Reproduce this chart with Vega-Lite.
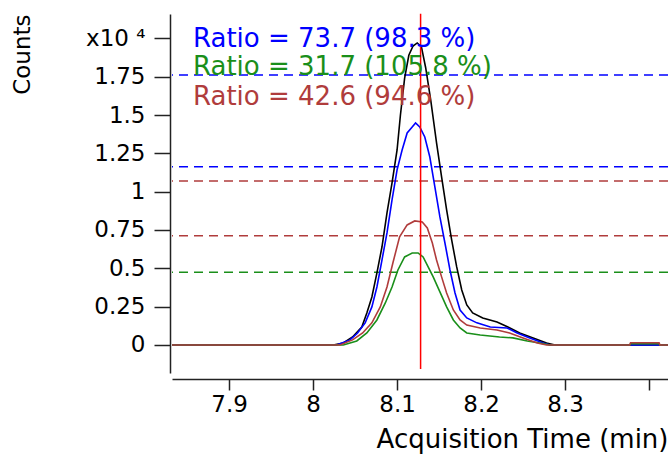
{
  "$schema": "https://vega.github.io/schema/vega-lite/v6.json",
  "autosize": {"type": "none"},
  "padding": {"left": 172, "top": 14, "right": 0, "bottom": 81},
  "width": 496,
  "height": 359,
  "background": "white",
  "config": {
    "view": {"stroke": null},
    "font": "DejaVu Sans"
  },
  "datasets": {
    "curves": [
      {"t": 7.832, "c": 0, "s": "black"},
      {"t": 8.024, "c": 0, "s": "black"},
      {"t": 8.036, "c": 0.013, "s": "black"},
      {"t": 8.047, "c": 0.052, "s": "black"},
      {"t": 8.058, "c": 0.117, "s": "black"},
      {"t": 8.064, "c": 0.209, "s": "black"},
      {"t": 8.070, "c": 0.313, "s": "black"},
      {"t": 8.076, "c": 0.470, "s": "black"},
      {"t": 8.082, "c": 0.639, "s": "black"},
      {"t": 8.088, "c": 0.861, "s": "black"},
      {"t": 8.094, "c": 1.057, "s": "black"},
      {"t": 8.100, "c": 1.272, "s": "black"},
      {"t": 8.104, "c": 1.500, "s": "black"},
      {"t": 8.109, "c": 1.740, "s": "black"},
      {"t": 8.114, "c": 1.890, "s": "black"},
      {"t": 8.119, "c": 1.950, "s": "black"},
      {"t": 8.124, "c": 1.970, "s": "black"},
      {"t": 8.129, "c": 1.945, "s": "black"},
      {"t": 8.134, "c": 1.810, "s": "black"},
      {"t": 8.140, "c": 1.600, "s": "black"},
      {"t": 8.147, "c": 1.318, "s": "black"},
      {"t": 8.153, "c": 1.096, "s": "black"},
      {"t": 8.159, "c": 0.881, "s": "black"},
      {"t": 8.165, "c": 0.685, "s": "black"},
      {"t": 8.171, "c": 0.509, "s": "black"},
      {"t": 8.177, "c": 0.359, "s": "black"},
      {"t": 8.183, "c": 0.261, "s": "black"},
      {"t": 8.190, "c": 0.209, "s": "black"},
      {"t": 8.202, "c": 0.176, "s": "black"},
      {"t": 8.219, "c": 0.150, "s": "black"},
      {"t": 8.232, "c": 0.117, "s": "black"},
      {"t": 8.246, "c": 0.078, "s": "black"},
      {"t": 8.262, "c": 0.046, "s": "black"},
      {"t": 8.278, "c": 0.013, "s": "black"},
      {"t": 8.288, "c": 0, "s": "black"},
      {"t": 8.4226, "c": 0, "s": "black"},

      {"t": 7.832, "c": 0, "s": "blue"},
      {"t": 8.028, "c": 0, "s": "blue"},
      {"t": 8.044, "c": 0.033, "s": "blue"},
      {"t": 8.053, "c": 0.078, "s": "blue"},
      {"t": 8.062, "c": 0.144, "s": "blue"},
      {"t": 8.070, "c": 0.248, "s": "blue"},
      {"t": 8.076, "c": 0.378, "s": "blue"},
      {"t": 8.082, "c": 0.554, "s": "blue"},
      {"t": 8.088, "c": 0.731, "s": "blue"},
      {"t": 8.094, "c": 0.946, "s": "blue"},
      {"t": 8.100, "c": 1.142, "s": "blue"},
      {"t": 8.106, "c": 1.272, "s": "blue"},
      {"t": 8.112, "c": 1.383, "s": "blue"},
      {"t": 8.118, "c": 1.422, "s": "blue"},
      {"t": 8.122, "c": 1.448, "s": "blue"},
      {"t": 8.127, "c": 1.422, "s": "blue"},
      {"t": 8.133, "c": 1.357, "s": "blue"},
      {"t": 8.139, "c": 1.226, "s": "blue"},
      {"t": 8.145, "c": 1.031, "s": "blue"},
      {"t": 8.151, "c": 0.835, "s": "blue"},
      {"t": 8.157, "c": 0.665, "s": "blue"},
      {"t": 8.163, "c": 0.489, "s": "blue"},
      {"t": 8.169, "c": 0.339, "s": "blue"},
      {"t": 8.175, "c": 0.228, "s": "blue"},
      {"t": 8.183, "c": 0.176, "s": "blue"},
      {"t": 8.195, "c": 0.144, "s": "blue"},
      {"t": 8.211, "c": 0.117, "s": "blue"},
      {"t": 8.231, "c": 0.111, "s": "blue"},
      {"t": 8.243, "c": 0.078, "s": "blue"},
      {"t": 8.258, "c": 0.046, "s": "blue"},
      {"t": 8.274, "c": 0.013, "s": "blue"},
      {"t": 8.282, "c": 0, "s": "blue"},
      {"t": 8.4226, "c": 0, "s": "blue"},

      {"t": 7.832, "c": 0, "s": "green"},
      {"t": 8.036, "c": 0, "s": "green"},
      {"t": 8.052, "c": 0.026, "s": "green"},
      {"t": 8.064, "c": 0.078, "s": "green"},
      {"t": 8.076, "c": 0.163, "s": "green"},
      {"t": 8.086, "c": 0.274, "s": "green"},
      {"t": 8.094, "c": 0.378, "s": "green"},
      {"t": 8.101, "c": 0.489, "s": "green"},
      {"t": 8.109, "c": 0.574, "s": "green"},
      {"t": 8.118, "c": 0.600, "s": "green"},
      {"t": 8.125, "c": 0.600, "s": "green"},
      {"t": 8.131, "c": 0.574, "s": "green"},
      {"t": 8.137, "c": 0.509, "s": "green"},
      {"t": 8.143, "c": 0.444, "s": "green"},
      {"t": 8.151, "c": 0.346, "s": "green"},
      {"t": 8.159, "c": 0.248, "s": "green"},
      {"t": 8.167, "c": 0.163, "s": "green"},
      {"t": 8.175, "c": 0.111, "s": "green"},
      {"t": 8.183, "c": 0.078, "s": "green"},
      {"t": 8.199, "c": 0.065, "s": "green"},
      {"t": 8.222, "c": 0.052, "s": "green"},
      {"t": 8.238, "c": 0.046, "s": "green"},
      {"t": 8.255, "c": 0.026, "s": "green"},
      {"t": 8.270, "c": 0.013, "s": "green"},
      {"t": 8.282, "c": 0, "s": "green"},
      {"t": 8.377, "c": 0, "s": "green"},
      {"t": 8.378, "c": 0.008, "s": "green"},
      {"t": 8.412, "c": 0.008, "s": "green"},
      {"t": 8.413, "c": 0, "s": "green"},
      {"t": 8.4226, "c": 0, "s": "green"},

      {"t": 7.832, "c": 0, "s": "brown"},
      {"t": 8.032, "c": 0, "s": "brown"},
      {"t": 8.047, "c": 0.033, "s": "brown"},
      {"t": 8.059, "c": 0.078, "s": "brown"},
      {"t": 8.070, "c": 0.144, "s": "brown"},
      {"t": 8.080, "c": 0.248, "s": "brown"},
      {"t": 8.088, "c": 0.378, "s": "brown"},
      {"t": 8.095, "c": 0.535, "s": "brown"},
      {"t": 8.103, "c": 0.705, "s": "brown"},
      {"t": 8.112, "c": 0.783, "s": "brown"},
      {"t": 8.121, "c": 0.809, "s": "brown"},
      {"t": 8.130, "c": 0.802, "s": "brown"},
      {"t": 8.136, "c": 0.763, "s": "brown"},
      {"t": 8.142, "c": 0.665, "s": "brown"},
      {"t": 8.147, "c": 0.554, "s": "brown"},
      {"t": 8.153, "c": 0.444, "s": "brown"},
      {"t": 8.159, "c": 0.339, "s": "brown"},
      {"t": 8.167, "c": 0.228, "s": "brown"},
      {"t": 8.175, "c": 0.163, "s": "brown"},
      {"t": 8.183, "c": 0.130, "s": "brown"},
      {"t": 8.199, "c": 0.111, "s": "brown"},
      {"t": 8.219, "c": 0.098, "s": "brown"},
      {"t": 8.234, "c": 0.078, "s": "brown"},
      {"t": 8.250, "c": 0.046, "s": "brown"},
      {"t": 8.267, "c": 0.013, "s": "brown"},
      {"t": 8.278, "c": 0, "s": "brown"},
      {"t": 8.377, "c": 0, "s": "brown"},
      {"t": 8.378, "c": 0.014, "s": "brown"},
      {"t": 8.412, "c": 0.014, "s": "brown"},
      {"t": 8.413, "c": 0, "s": "brown"},
      {"t": 8.4226, "c": 0, "s": "brown"}
    ],
    "limits": [
      {"level": 1.761, "s": "blue"},
      {"level": 1.163, "s": "blue"},
      {"level": 1.070, "s": "brown"},
      {"level": 0.713, "s": "brown"},
      {"level": 0.474, "s": "green"}
    ],
    "labels": [
      {"t": 7.857, "c": 1.944, "s": "blue", "text": "Ratio = 73.7 (98.3 %)"},
      {"t": 7.857, "c": 1.761, "s": "green", "text": "Ratio = 31.7 (105.8 %)"},
      {"t": 7.857, "c": 1.566, "s": "brown", "text": "Ratio = 42.6 (94.6 %)"}
    ],
    "marker": [
      {"t": 8.128, "top": 2.16, "bottom": -0.157}
    ]
  },
  "encoding": {
    "x": {
      "field": "t", "type": "quantitative",
      "scale": {"domain": [7.832, 8.4226], "nice": false, "zero": false},
      "axis": {
        "title": "Acquisition Time (min)",
        "values": [7.9, 8.0, 8.1, 8.2, 8.3, 8.4],
        "labelExpr": "datum.value > 8.35 ? '' : format(datum.value, '~g')",
        "offset": 6,
        "grid": false,
        "domainColor": "#222222", "domainWidth": 1.5,
        "tickColor": "#222222", "tickWidth": 1.5, "tickSize": 11,
        "labelFont": "DejaVu Sans", "labelFontSize": 23, "labelColor": "black",
        "labelPadding": 3,
        "titleFont": "DejaVu Sans", "titleFontSize": 26, "titleFontWeight": "normal",
        "titleColor": "black", "titleAnchor": "end", "titlePadding": 10
      }
    },
    "y": {
      "field": "c", "type": "quantitative",
      "scale": {"domain": [-0.183, 2.159], "nice": false, "zero": false},
      "axis": {
        "title": "Counts",
        "values": [0, 0.25, 0.5, 0.75, 1, 1.25, 1.5, 1.75, 2],
        "labelExpr": "datum.value > 1.9 ? 'x10  ⁴' : format(datum.value, '~g')",
        "offset": 2,
        "grid": false,
        "domainColor": "#222222", "domainWidth": 1.5,
        "tickColor": "#222222", "tickWidth": 1.5, "tickSize": 16,
        "labelFont": "DejaVu Sans", "labelFontSize": 23, "labelColor": "black",
        "labelPadding": 9,
        "titleFont": "DejaVu Sans", "titleFontSize": 23, "titleFontWeight": "normal",
        "titleColor": "black", "titleAnchor": "end", "titlePadding": 44
      }
    }
  },
  "layer": [
    {
      "data": {"name": "limits"},
      "mark": {"type": "rule", "strokeDash": [9, 6], "strokeWidth": 1.5},
      "encoding": {
        "x": null,
        "y": {"field": "level", "type": "quantitative"},
        "color": {
          "field": "s", "type": "nominal", "legend": null,
          "scale": {"domain": ["black", "blue", "green", "brown"], "range": ["#000000", "#0000ff", "#1a8f1a", "#b03c3c"]}
        }
      }
    },
    {
      "data": {"name": "curves"},
      "transform": [{"filter": "datum.s == 'black'"}],
      "mark": {"type": "line", "strokeWidth": 1.6, "color": "#000000"}
    },
    {
      "data": {"name": "curves"},
      "transform": [{"filter": "datum.s == 'blue'"}],
      "mark": {"type": "line", "strokeWidth": 1.6, "color": "#0000ff"}
    },
    {
      "data": {"name": "curves"},
      "transform": [{"filter": "datum.s == 'green'"}],
      "mark": {"type": "line", "strokeWidth": 1.6, "color": "#1a8f1a"}
    },
    {
      "data": {"name": "curves"},
      "transform": [{"filter": "datum.s == 'brown'"}],
      "mark": {"type": "line", "strokeWidth": 1.6, "color": "#b03c3c"}
    },
    {
      "data": {"name": "marker"},
      "mark": {"type": "rule", "color": "#ff0000", "strokeWidth": 1.5},
      "encoding": {
        "y": {"field": "top", "type": "quantitative"},
        "y2": {"field": "bottom"}
      }
    },
    {
      "data": {"name": "labels"},
      "mark": {"type": "text", "align": "left", "baseline": "alphabetic", "font": "DejaVu Sans", "fontSize": 26},
      "encoding": {
        "text": {"field": "text"},
        "color": {
          "field": "s", "type": "nominal", "legend": null,
          "scale": {"domain": ["black", "blue", "green", "brown"], "range": ["#000000", "#2a2aff", "#2a8f2a", "#b03c3c"]}
        }
      }
    }
  ]
}
